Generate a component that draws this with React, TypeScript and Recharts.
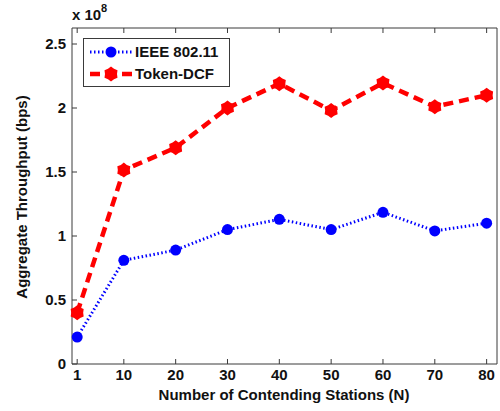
import { LineChart, Line, XAxis, YAxis } from "recharts";

const STATIONS = [1, 10, 20, 30, 40, 50, 60, 70, 80];
// aggregate throughput, in units of 1e8 bps
const IEEE_80211 = [0.21, 0.81, 0.89, 1.05, 1.13, 1.05, 1.185, 1.04, 1.1];
const TOKEN_DCF = [0.4, 1.515, 1.69, 2.0, 2.19, 1.98, 2.195, 2.01, 2.1];

const X_TICKS = [1, 10, 20, 30, 40, 50, 60, 70, 80];
const Y_TICKS = [0, 0.5, 1, 1.5, 2, 2.5];

const data = STATIONS.map((n, i) => ({ n, ieee: IEEE_80211[i], token: TOKEN_DCF[i] }));

const FONT = "'Liberation Sans', Arial, sans-serif";
const AXIS = "#3a3a3a";
const BLUE = "#0000ff";
const RED = "#ff0000";

const fmtY = (v: number) => String(v);

function BottomTick({ x, y, payload }: any) {
  return (
    <g>
      <line x1={x} y1={y} x2={x} y2={y - 5} stroke={AXIS} />
      <text x={x} y={y + 16} textAnchor="middle" fontSize={15} fontWeight="bold" fontFamily={FONT} fill="#111">
        {payload.value}
      </text>
    </g>
  );
}

function LeftTick({ x, y, payload }: any) {
  return (
    <g>
      <line x1={x} y1={y} x2={x + 5} y2={y} stroke={AXIS} />
      <text x={x - 6} y={y + 5} textAnchor="end" fontSize={15} fontWeight="bold" fontFamily={FONT} fill="#111">
        {fmtY(payload.value)}
      </text>
    </g>
  );
}

function TopTick({ x, y }: any) {
  return <line x1={x} y1={y} x2={x} y2={y + 5} stroke={AXIS} />;
}

function RightTick({ x, y }: any) {
  return <line x1={x} y1={y} x2={x - 5} y2={y} stroke={AXIS} />;
}

function BlueDot({ cx, cy }: any) {
  if (cx == null || cy == null) return null;
  return <circle cx={cx} cy={cy} r={5.5} fill={BLUE} />;
}

function hexagram(cx: number, cy: number, ro: number, ri: number) {
  const pts: string[] = [];
  for (let k = 0; k < 12; k++) {
    const a = (Math.PI / 6) * k - Math.PI / 2;
    const r = k % 2 === 0 ? ro : ri;
    pts.push(`${cx + r * Math.cos(a)},${cy + r * Math.sin(a)}`);
  }
  return pts.join(" ");
}

function RedDot({ cx, cy }: any) {
  if (cx == null || cy == null) return null;
  return <polygon points={hexagram(cx, cy, 7.5, 6)} fill={RED} />;
}

export default function App() {
  const textStyle = { fontFamily: FONT, fontWeight: "bold" as const, fontSize: 15, fill: "#111" };
  return (
    <div style={{ position: "absolute", left: 0, top: 0, width: 500, height: 411, background: "#fff" }}>
      <LineChart width={500} height={411} data={data} margin={{ top: 0, right: 0, bottom: 0, left: 0 }}>
        <XAxis
          dataKey="n"
          type="number"
          domain={[0, 82]}
          ticks={X_TICKS}
          interval={0}
          height={47}
          tickSize={0}
          tickMargin={0}
          tick={<BottomTick />}
          axisLine={{ stroke: AXIS }}
        />
        <XAxis
          xAxisId="top"
          orientation="top"
          dataKey="n"
          type="number"
          domain={[0, 82]}
          ticks={X_TICKS}
          interval={0}
          height={28}
          tickSize={0}
          tickMargin={0}
          tick={<TopTick />}
          axisLine={{ stroke: AXIS }}
        />
        <YAxis
          type="number"
          domain={[0, 2.625]}
          ticks={Y_TICKS}
          interval={0}
          width={72}
          tickSize={0}
          tickMargin={0}
          tick={<LeftTick />}
          axisLine={{ stroke: AXIS }}
        />
        <YAxis
          yAxisId="right"
          orientation="right"
          type="number"
          domain={[0, 2.625]}
          ticks={Y_TICKS}
          interval={0}
          width={3}
          tickSize={0}
          tickMargin={0}
          tick={<RightTick />}
          axisLine={{ stroke: AXIS }}
        />
        <Line
          type="linear"
          dataKey="ieee"
          stroke={BLUE}
          strokeWidth={3}
          strokeDasharray="1.5 2.5"
          dot={<BlueDot />}
          activeDot={false}
          isAnimationActive={false}
        />
        <Line
          type="linear"
          dataKey="token"
          stroke={RED}
          strokeWidth={4.5}
          strokeDasharray="10 6"
          dot={<RedDot />}
          activeDot={false}
          isAnimationActive={false}
        />
      </LineChart>

      <svg
        width={500}
        height={411}
        style={{ position: "absolute", left: 0, top: 0, pointerEvents: "none" }}
      >
        <text x={72} y={20} {...textStyle}>x 10</text>
        <text x={101} y={12} {...textStyle} fontSize={11}>8</text>

        <text
          x={0}
          y={0}
          transform="translate(27 197) rotate(-90)"
          textAnchor="middle"
          {...textStyle}
        >
          Aggregate Throughput (bps)
        </text>
        <text x={284} y={400} textAnchor="middle" {...textStyle}>
          Number of Contending Stations (N)
        </text>

        <rect x={83.5} y={38.5} width={146} height={48} fill="#fff" stroke={AXIS} />
        <line x1={90} y1={52} x2={133} y2={52} stroke={BLUE} strokeWidth={3} strokeDasharray="1.5 2.5" />
        <circle cx={111} cy={52} r={5.5} fill={BLUE} />
        <text x={135} y={57} {...textStyle}>IEEE 802.11</text>
        <line x1={90} y1={74} x2={133} y2={74} stroke={RED} strokeWidth={4.5} strokeDasharray="10 6" />
        <polygon points={hexagram(111, 74, 7.5, 6)} fill={RED} />
        <text x={135} y={79} {...textStyle}>Token-DCF</text>
      </svg>
    </div>
  );
}
